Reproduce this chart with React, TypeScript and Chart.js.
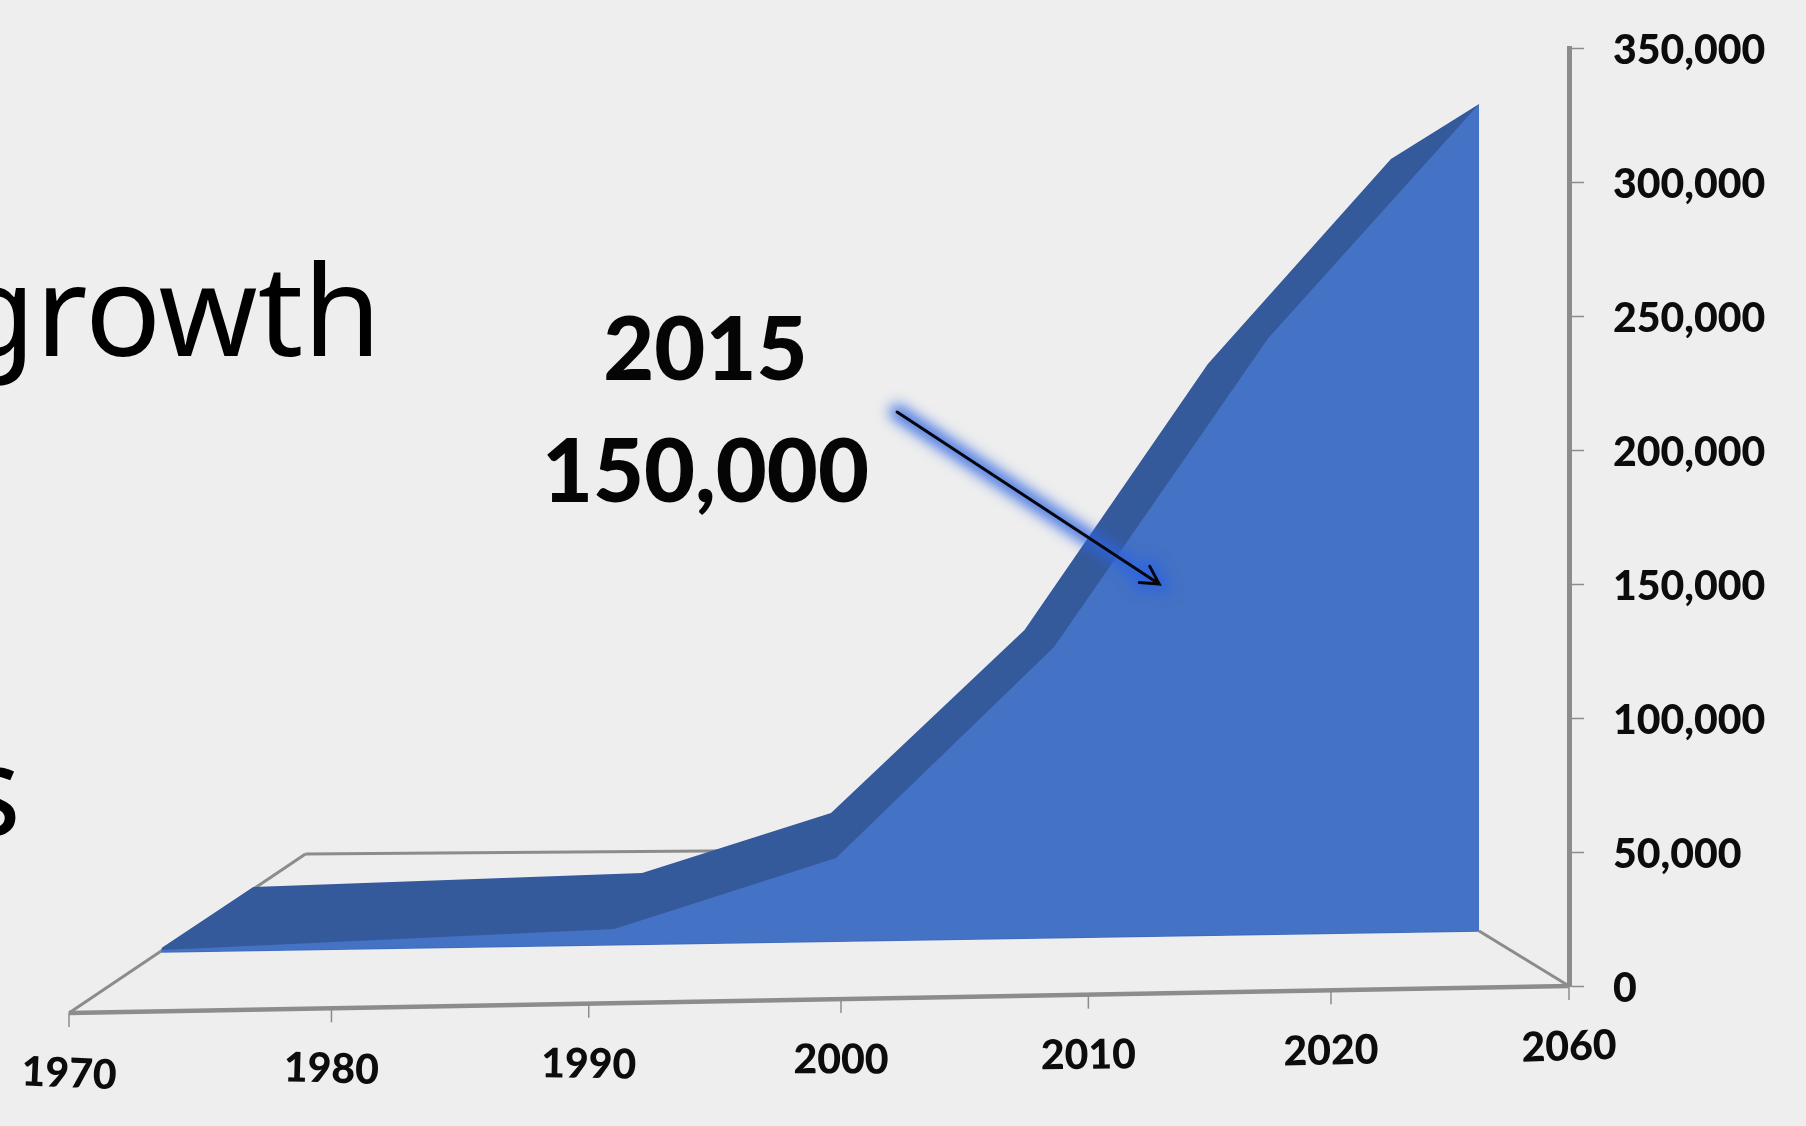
import React, { useEffect, useRef } from "react";
import { Chart, LinearScale, registerables } from "chart.js";

// Axis position: the horizontal axis runs in even decade steps, labelled by xTickLabels.
const xTickPositions = [1970, 1980, 1990, 2000, 2010, 2020, 2030];
const xTickLabels = ["1970", "1980", "1990", "2000", "2010", "2020", "2060"];

// Front face of the area
const frontX = [1973.5, 1991.0, 1999.8, 2008.6, 2017.4, 2026.2];
const frontY = [13430, 21270, 47760, 126480, 241770, 329070];

// Bottom of the front face
const baseX = [1973.5, 2026.2];
const baseY = [12685, 20520];

// Rear edge of the area
const backX = [1973.5, 1977.0, 1992.1, 1999.6, 2007.4, 2014.9, 2022.5, 2026.2];
const backY = [14180, 36940, 42160, 64550, 132820, 232070, 308560, 329070];

// Floor outline
const floorFrontX = [1970, 2030];
const floorFrontY = [-10074, 0];
const floorLeftX = [1970, 1979];
const floorLeftY = [-10074, 49250];
const floorBackX = [1979, 1996];
const floorBackY = [49250, 50500];
const floorRightX = [2026.2, 2030];
const floorRightY = [20520, 0];

// Annotation
const calloutYear = "2015";
const calloutValue = "150,000";
const calloutTextX = 1994.6;
const calloutLine1Y = 236700;
const calloutLine2Y = 191300;
const arrowFrom = { x: 2002.25, y: 214160 };
const arrowTo = { x: 2012.9, y: 150000 };

const headlineWords = ["growth", "s"];

const toPoints = (xs: number[], ys: number[]) => xs.map((x, i) => ({ x, y: ys[i] }));

const FORESHORTEN = 0.943;
class PerspectiveScale extends LinearScale {
  static id = "perspective";
  static defaults = LinearScale.defaults;
  getPixelForValue(value: number) {
    const u = (value - this.min) / (this.max - this.min);
    const p = u / (u + (1 - u) * FORESHORTEN);
    return this.getPixelForDecimal(p);
  }
  getValueForPixel(pixel: number) {
    const p = this.getDecimalForPixel(pixel);
    const u = (p * FORESHORTEN) / (1 - p + p * FORESHORTEN);
    return this.min + u * (this.max - this.min);
  }
}

Chart.register(...registerables, PerspectiveScale);

const BG = "#eeeeee";
const AXIS = "#8c8c8c";
const LABEL_FONT = "Lato";

const decor = {
  id: "decor",
  beforeDraw(chart: any) {
    const { ctx, width, height } = chart;
    ctx.save();
    ctx.fillStyle = BG;
    ctx.fillRect(0, 0, width, height);
    ctx.fillStyle = "#000";
    ctx.textAlign = "right";
    ctx.textBaseline = "alphabetic";
    ctx.font = '126px "Noto Sans"';
    ctx.fillText(headlineWords[0], 381, 356);
    ctx.fillText(headlineWords[1], 21, 836);
    ctx.restore();
  },
  afterDraw(chart: any) {
    const { ctx } = chart;
    const xs = chart.scales.x;
    const ys = chart.scales.y;
    const y0 = ys.getPixelForValue(floorFrontY[0]);
    const y1 = ys.getPixelForValue(floorFrontY[1]);

    ctx.save();
    xTickPositions.forEach((pos, i) => {
      const px = xs.getPixelForValue(pos);
      const t = (px - xs.left) / (xs.right - xs.left);
      const py = y0 + (y1 - y0) * t;
      ctx.strokeStyle = AXIS;
      ctx.lineWidth = 1.5;
      ctx.beginPath();
      ctx.moveTo(px, py);
      ctx.lineTo(px, py + 14);
      ctx.stroke();

      ctx.save();
      ctx.translate(px, py + 61);
      ctx.rotate(((2.4 - 4.4 * t) * Math.PI) / 180);
      ctx.fillStyle = "#0c0c0c";
      ctx.textAlign = "center";
      ctx.textBaseline = "middle";
      ctx.font = `900 41px ${LABEL_FONT}`;
      ctx.fillText(xTickLabels[i], 0, 0);
      ctx.restore();
    });

    // Callout
    ctx.fillStyle = "#050505";
    ctx.textAlign = "center";
    ctx.textBaseline = "middle";
    ctx.font = `900 88px ${LABEL_FONT}`;
    const tx = xs.getPixelForValue(calloutTextX);
    ctx.fillText(calloutYear, tx, ys.getPixelForValue(calloutLine1Y));
    ctx.fillText(calloutValue, tx, ys.getPixelForValue(calloutLine2Y));

    const ax = xs.getPixelForValue(arrowFrom.x);
    const ay = ys.getPixelForValue(arrowFrom.y);
    const bx = xs.getPixelForValue(arrowTo.x);
    const by = ys.getPixelForValue(arrowTo.y);
    const ang = Math.atan2(by - ay, bx - ax);
    const h = 20;
    const path = (dx: number) => {
      ctx.beginPath();
      ctx.moveTo(ax + dx, ay);
      ctx.lineTo(bx + dx, by);
      ctx.moveTo(bx + dx - h * Math.cos(ang - 0.5), by - h * Math.sin(ang - 0.5));
      ctx.lineTo(bx + dx, by);
      ctx.lineTo(bx + dx - h * Math.cos(ang + 0.5), by - h * Math.sin(ang + 0.5));
    };
    ctx.lineCap = "round";
    ctx.lineJoin = "miter";
    // Soft glow only: the stroke itself sits off the canvas, its shadow lands on the arrow.
    const away = 4000;
    ctx.strokeStyle = "#000";
    ctx.shadowColor = "rgba(45,100,225,0.9)";
    ctx.shadowOffsetX = away;
    ctx.shadowBlur = 14;
    ctx.lineWidth = 15;
    path(-away);
    ctx.stroke();
    ctx.shadowBlur = 0;
    ctx.shadowOffsetX = 0;
    ctx.shadowColor = "transparent";
    ctx.strokeStyle = "#04060c";
    ctx.lineWidth = 3;
    path(0);
    ctx.stroke();
    ctx.restore();
  },
};

export default function App() {
  const ref = useRef<HTMLCanvasElement>(null);
  useEffect(() => {
    document.body.style.margin = "0";
    document.body.style.background = BG;
    const edge = {
      fill: false,
      pointRadius: 0,
      clip: false,
      tension: 0,
    };
    const chart = new Chart(ref.current as HTMLCanvasElement, {
      type: "line",
      data: {
        datasets: [
          {
            label: "Front",
            data: toPoints(frontX, frontY),
            backgroundColor: "#4472c4",
            borderColor: "#4472c4",
            borderWidth: 0,
            fill: 2,
            pointRadius: 0,
            tension: 0,
          },
          {
            label: "Back",
            data: toPoints(backX, backY),
            backgroundColor: "#355a9b",
            borderColor: "#355a9b",
            borderWidth: 0,
            fill: 2,
            pointRadius: 0,
            tension: 0,
          },
          {
            label: "Base",
            data: toPoints(baseX, baseY),
            borderColor: "#4472c4",
            borderWidth: 1.5,
            ...edge,
          },
          {
            label: "Floor back",
            data: toPoints(floorBackX, floorBackY),
            borderColor: AXIS,
            borderWidth: 3,
            ...edge,
          },
          {
            label: "Floor left",
            data: toPoints(floorLeftX, floorLeftY),
            borderColor: AXIS,
            borderWidth: 3,
            ...edge,
          },
          {
            label: "Floor right",
            data: toPoints(floorRightX, floorRightY),
            borderColor: AXIS,
            borderWidth: 3,
            ...edge,
          },
          {
            label: "Floor front",
            data: toPoints(floorFrontX, floorFrontY),
            borderColor: AXIS,
            borderWidth: 4.5,
            ...edge,
          },
        ] as any,
      },
      options: {
        responsive: false,
        animation: false,
        layout: { padding: { left: 69, top: 48, bottom: 140, right: 0 } },
        plugins: { legend: { display: false }, tooltip: { enabled: false }, title: { display: false } },
        scales: {
          x: {
            type: "perspective" as any,
            display: false,
            min: 1970,
            max: 2030,
            ticks: { stepSize: 10 },
          },
          y: {
            position: "right",
            min: 0,
            max: 350000,
            afterFit(scale: any) {
              scale.width = 237;
              scale.paddingTop = 0;
              scale.paddingBottom = 0;
            },
            border: { display: true, color: AXIS, width: 5 },
            grid: {
              drawOnChartArea: false,
              drawTicks: true,
              tickLength: 15,
              tickColor: AXIS,
              tickWidth: 1.5,
            },
            ticks: {
              stepSize: 50000,
              padding: 29,
              labelOffset: 3,
              color: "#0c0c0c",
              font: { family: LABEL_FONT, weight: "900", size: 41 },
              callback: (v: any) => Number(v).toLocaleString("en-US"),
            },
          },
        },
      },
      plugins: [decor],
    });
    return () => chart.destroy();
  }, []);
  return <canvas ref={ref} width={1806} height={1126} style={{ display: "block" }} />;
}
